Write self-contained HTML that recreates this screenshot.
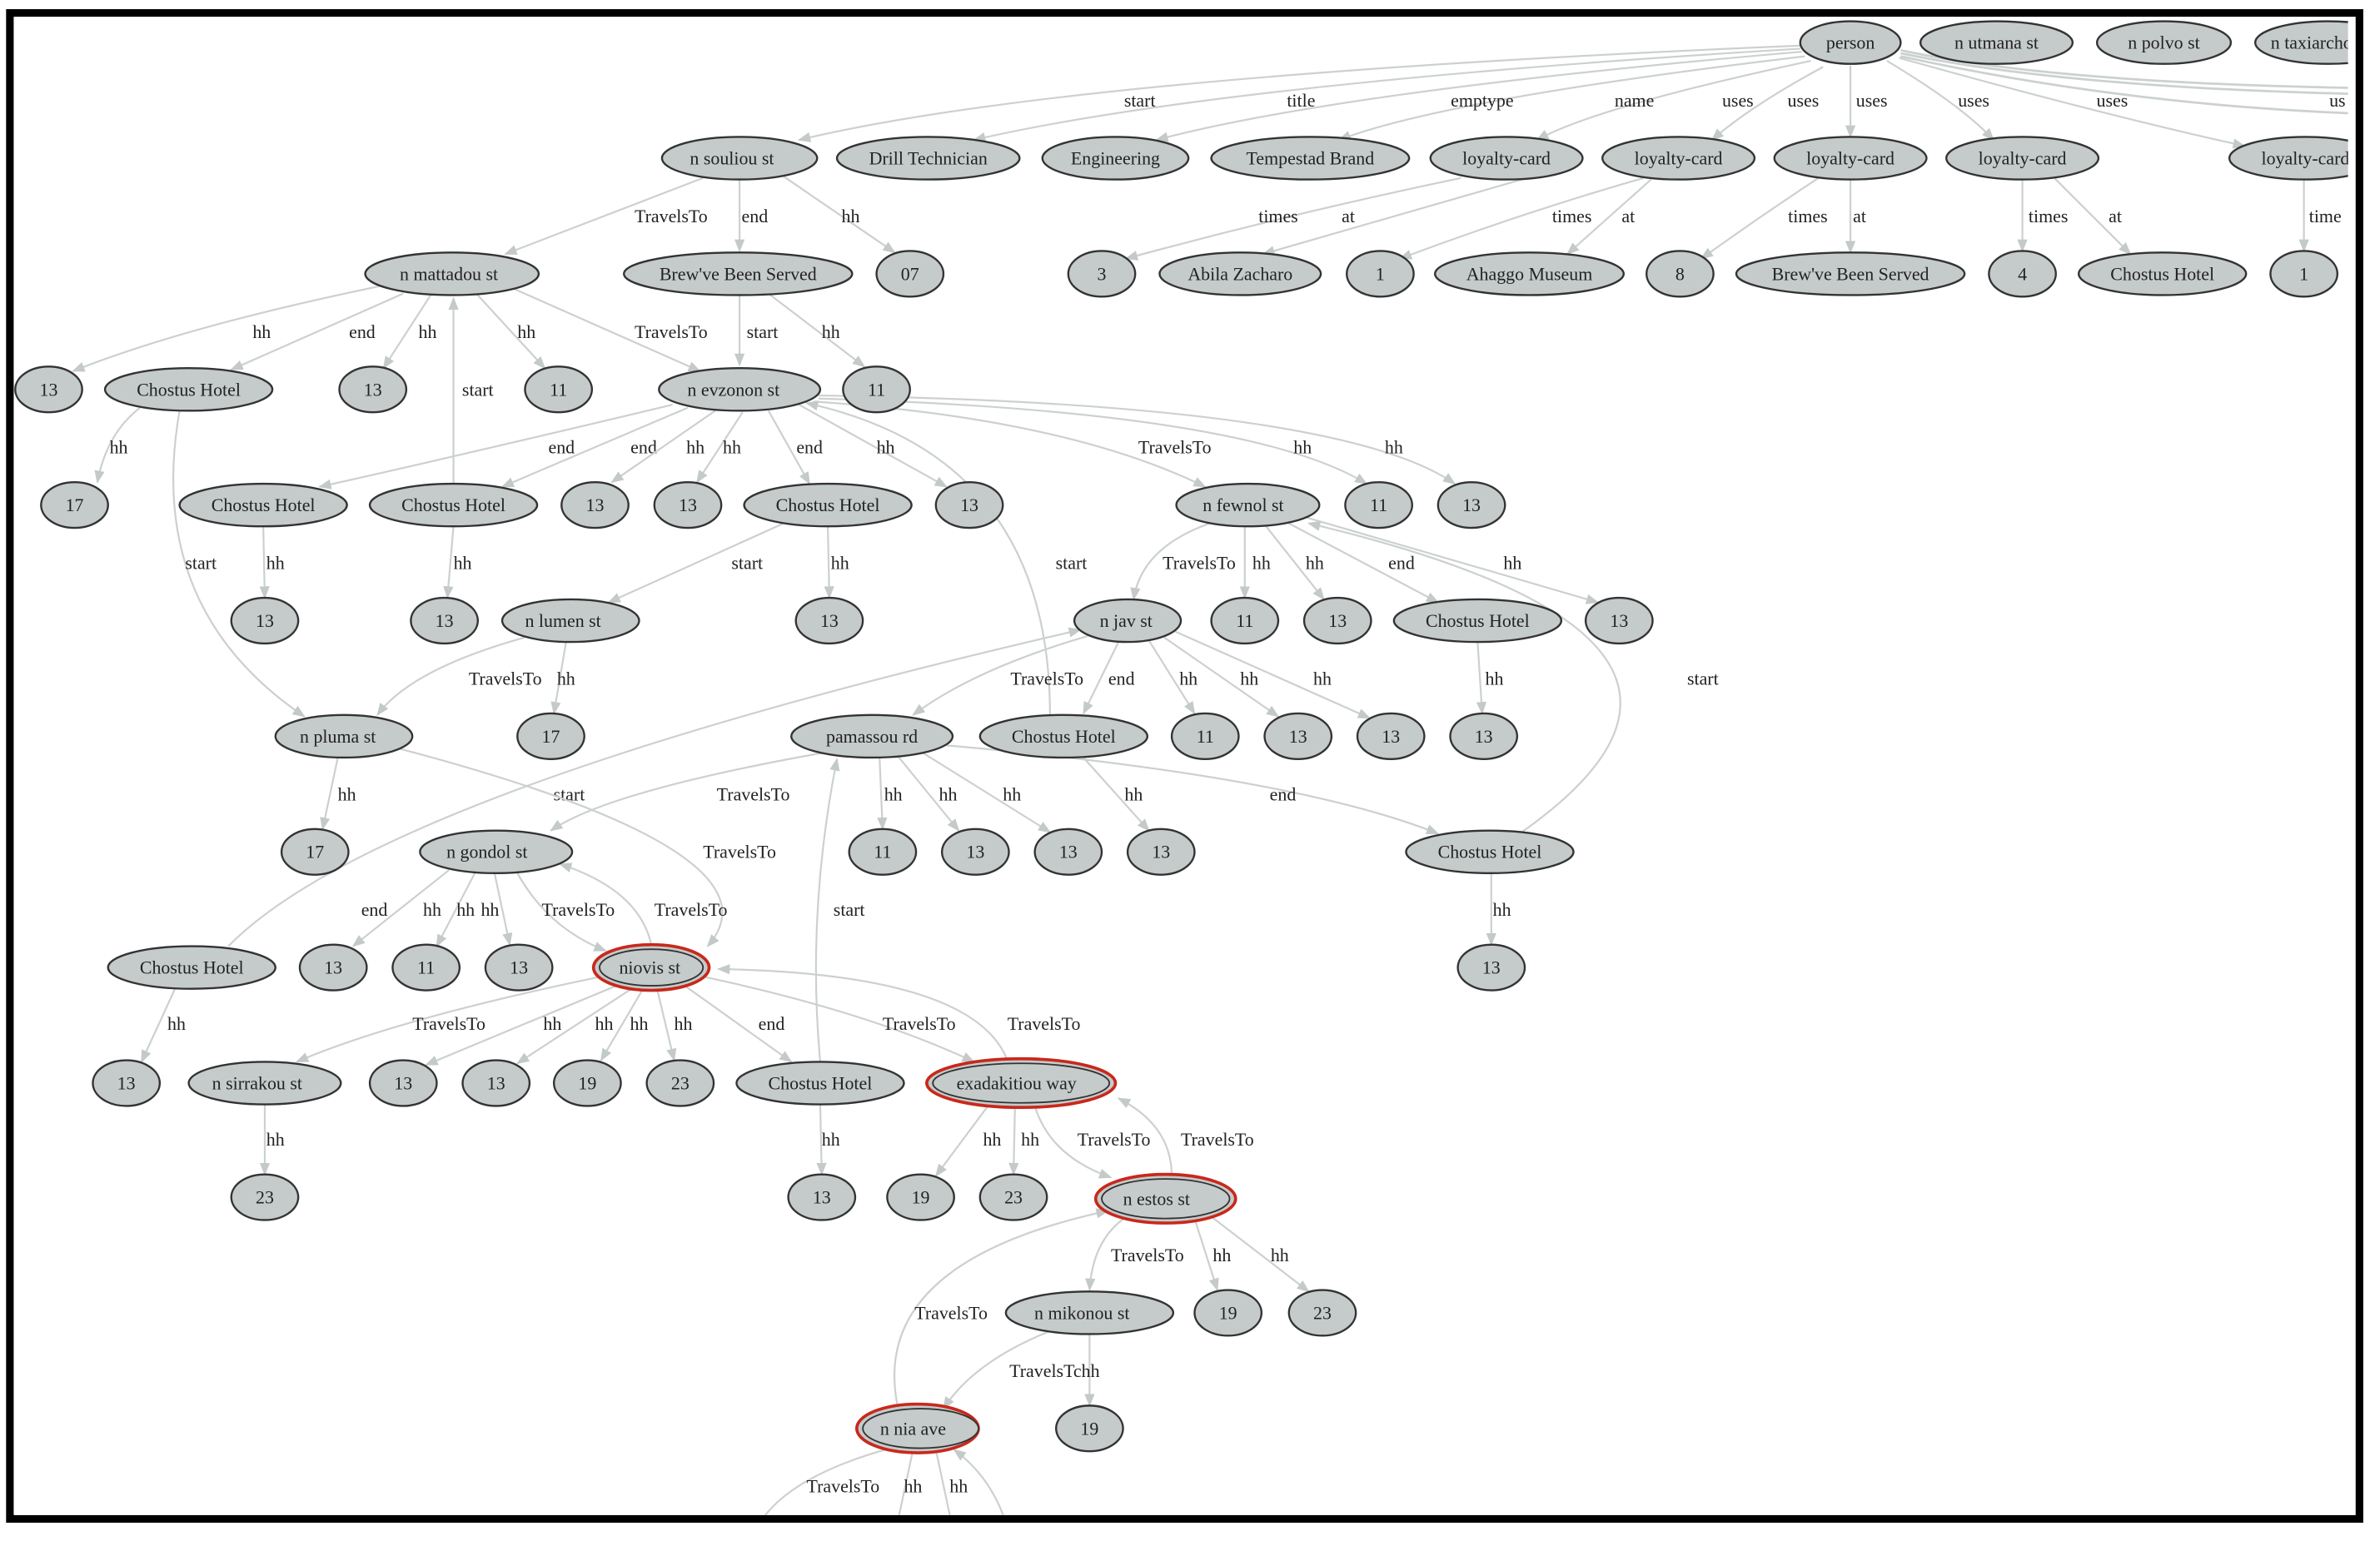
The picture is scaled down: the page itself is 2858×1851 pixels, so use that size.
<!DOCTYPE html>
<html><head><meta charset="utf-8"><style>
html,body{margin:0;padding:0;background:#fff;}
svg{display:block}
text{font-family:"Liberation Serif","DejaVu Serif",serif;font-size:12px;fill:#222;text-anchor:middle;dominant-baseline:central}
.e{fill:none;stroke:#cbd1cf;stroke-width:1.2;marker-end:url(#a)}
.n ellipse{fill:#c5cbca;stroke:#333;stroke-width:1.3}
.r ellipse{stroke:#c8281c;stroke-width:2}
</style></head><body>
<svg width="2858" height="1851" viewBox="0 0 1564 1013" preserveAspectRatio="none" xmlns="http://www.w3.org/2000/svg">
<defs><marker id="a" viewBox="0 0 10 10" refX="9" refY="5" markerWidth="7" markerHeight="7" orient="auto"><path d="M0,1 L10,5 L0,9 z" fill="#c3cac8"/></marker>
<clipPath id="c"><rect x="9" y="10" width="1534" height="986"/></clipPath></defs>
<rect x="0" y="0" width="1564" height="1013" fill="#fff"/>
<rect x="6.5" y="8.5" width="1544" height="990" fill="#fff" stroke="#000" stroke-width="5"/>
<g clip-path="url(#c)">
<g>
<path class="e" d="M1183,30 Q700,50 525,92"/>
<path class="e" d="M1183,32 Q800,55 640,92"/>
<path class="e" d="M1184,34 Q880,60 760,92"/>
<path class="e" d="M1186,37 Q950,65 880,92"/>
<path class="e" d="M1190,40 Q1050,70 1010,92"/>
<path class="e" d="M1198,44 Q1150,70 1125,92"/>
<path class="e" d="M1216,43 L1216,90"/>
<path class="e" d="M1240,40 Q1290,70 1310,92"/>
<path class="e" d="M1248,38 Q1380,75 1475,96"/>
<path d="M1249,33 Q1350,55 1560,58 M1249,35 Q1360,58 1560,62 M1249,37 Q1400,70 1560,75" stroke="#cbd1cf" stroke-width="1.5" fill="none"/>
<text x="749" y="66">start</text><text x="855" y="66">title</text><text x="974" y="66">emptype</text><text x="1074" y="66">name</text><text x="1142" y="66">uses</text><text x="1185" y="66">uses</text><text x="1230" y="66">uses</text><text x="1297" y="66">uses</text><text x="1388" y="66">uses</text><text x="1536" y="66">us</text>
<path class="e" d="M960,117 Q850,140 740,170"/><text x="840" y="142">times</text>
<path class="e" d="M1000,118 L830,167"/><text x="886" y="142">at</text>
<path class="e" d="M1080,117 Q1000,140 920,170"/><text x="1033" y="142">times</text>
<path class="e" d="M1085,118 L1030,167"/><text x="1070" y="142">at</text>
<path class="e" d="M1195,117 Q1160,140 1118,170"/><text x="1188" y="142">times</text>
<path class="e" d="M1216,118 L1216,166"/><text x="1222" y="142">at</text>
<path class="e" d="M1329,118 L1329,165"/><text x="1346" y="142">times</text>
<path class="e" d="M1350,117 L1400,167"/><text x="1390" y="142">at</text>
<path class="e" d="M1514,118 L1514,165"/><text x="1528" y="142">time</text>
<path class="e" d="M462,117 L332,167"/><text x="441" y="142">TravelsTo</text>
<path class="e" d="M486,118 L486,165"/><text x="496" y="142">end</text>
<path class="e" d="M515,116 L588,166"/><text x="559" y="142">hh</text>
<path class="e" d="M250,188 Q120,215 48,244"/><text x="172" y="218">hh</text>
<path class="e" d="M265,193 L152,243"/><text x="238" y="218">end</text>
<path class="e" d="M283,194 L252,242"/><text x="281" y="218">hh</text>
<path class="e" d="M313,193 L358,242"/><text x="346" y="218">hh</text>
<path class="e" d="M338,190 L460,244"/><text x="441" y="218">TravelsTo</text>
<path class="e" d="M298,318 L298,196"/><text x="314" y="256">start</text>
<path class="e" d="M486,194 L486,240"/><text x="501" y="218">start</text>
<path class="e" d="M505,193 L568,241"/><text x="546" y="218">hh</text>
<path class="e" d="M92,268 Q70,285 64,317"/><text x="78" y="294">hh</text>
<path class="e" d="M118,270 Q95,400 200,471"/><text x="132" y="370">start</text>
<path class="e" d="M442,266 Q300,300 210,320"/><text x="369" y="294">end</text>
<path class="e" d="M452,268 L330,320"/><text x="423" y="294">end</text>
<path class="e" d="M470,270 L402,317"/><text x="457" y="294">hh</text>
<path class="e" d="M488,271 L458,317"/><text x="481" y="294">hh</text>
<path class="e" d="M505,270 L532,318"/><text x="532" y="294">end</text>
<path class="e" d="M525,266 L622,320"/><text x="582" y="294">hh</text>
<path class="e" d="M535,264 Q700,275 792,320"/><text x="772" y="294">TravelsTo</text>
<path class="e" d="M538,262 Q820,270 898,318"/><text x="856" y="294">hh</text>
<path class="e" d="M538,260 Q880,265 956,318"/><text x="916" y="294">hh</text>
<path class="e" d="M173,346 L174,393"/><text x="181" y="370">hh</text>
<path class="e" d="M298,346 L294,393"/><text x="304" y="370">hh</text>
<path class="e" d="M515,344 L400,396"/><text x="491" y="370">start</text>
<path class="e" d="M544,346 L545,393"/><text x="552" y="370">hh</text>
<path class="e" d="M690,470 Q690,300 530,265"/><text x="704" y="370">start</text>
<path class="e" d="M795,344 Q750,360 745,394"/><text x="788" y="370">TravelsTo</text>
<path class="e" d="M818,346 L818,393"/><text x="829" y="370">hh</text>
<path class="e" d="M832,346 L870,394"/><text x="864" y="370">hh</text>
<path class="e" d="M845,343 L945,396"/><text x="921" y="370">end</text>
<path class="e" d="M858,340 L1050,396"/><text x="994" y="370">hh</text>
<path class="e" d="M1000,547 Q1180,420 860,344"/><text x="1119" y="446">start</text>
<path class="e" d="M971,422 L974,469"/><text x="982" y="446">hh</text>
<path class="e" d="M345,419 Q270,440 248,470"/><text x="332" y="446">TravelsTo</text>
<path class="e" d="M372,422 L364,469"/><text x="372" y="446">hh</text>
<path class="e" d="M715,418 Q640,440 600,470"/><text x="688" y="446">TravelsTo</text>
<path class="e" d="M735,422 L712,469"/><text x="737" y="446">end</text>
<path class="e" d="M755,421 L785,469"/><text x="781" y="446">hh</text>
<path class="e" d="M765,419 L840,471"/><text x="821" y="446">hh</text>
<path class="e" d="M772,415 L900,472"/><text x="869" y="446">hh</text>
<path class="e" d="M150,622 Q250,520 710,414"/><text x="374" y="522">start</text>
<path class="e" d="M222,498 L212,545"/><text x="228" y="522">hh</text>
<path class="e" d="M262,492 Q520,560 465,622"/><text x="486" y="560">TravelsTo</text>
<path class="e" d="M540,495 Q400,520 362,546"/><text x="495" y="522">TravelsTo</text>
<path class="e" d="M578,498 L580,545"/><text x="587" y="522">hh</text>
<path class="e" d="M590,497 L630,546"/><text x="623" y="522">hh</text>
<path class="e" d="M605,494 L690,547"/><text x="665" y="522">hh</text>
<path class="e" d="M622,490 Q850,510 945,548"/><text x="843" y="522">end</text>
<path class="e" d="M712,498 L755,546"/><text x="745" y="522">hh</text>
<path class="e" d="M539,698 Q530,600 550,499"/><text x="558" y="598">start</text>
<path class="e" d="M295,572 L232,622"/><text x="246" y="598">end</text>
<path class="e" d="M312,574 L287,622"/><text x="284" y="598">hh</text>
<path class="e" d="M325,574 L335,621"/><text x="306" y="598">hh</text><text x="322" y="598">hh</text>
<path class="e" d="M340,574 Q360,610 398,625"/><text x="380" y="598">TravelsTo</text>
<path class="e" d="M428,621 Q420,585 368,568"/><text x="454" y="598">TravelsTo</text>
<path class="e" d="M980,574 L980,621"/><text x="987" y="598">hh</text>
<path class="e" d="M115,650 L93,698"/><text x="116" y="673">hh</text>
<path class="e" d="M395,642 Q260,670 195,698"/><text x="295" y="673">TravelsTo</text>
<path class="e" d="M405,648 L280,700"/><text x="363" y="673">hh</text>
<path class="e" d="M415,650 L340,699"/><text x="397" y="673">hh</text>
<path class="e" d="M422,651 L395,697"/><text x="420" y="673">hh</text>
<path class="e" d="M432,651 L443,697"/><text x="449" y="673">hh</text>
<path class="e" d="M450,648 L520,698"/><text x="507" y="673">end</text>
<path class="e" d="M462,642 Q570,665 640,698"/><text x="604" y="673">TravelsTo</text>
<path class="e" d="M662,697 Q640,640 472,637"/><text x="686" y="673">TravelsTo</text>
<path class="e" d="M174,726 L174,772"/><text x="181" y="749">hh</text>
<path class="e" d="M539,726 L540,772"/><text x="546" y="749">hh</text>
<path class="e" d="M650,726 L615,773"/><text x="652" y="749">hh</text>
<path class="e" d="M667,727 L666,772"/><text x="677" y="749">hh</text>
<path class="e" d="M680,727 Q690,760 730,774"/><text x="732" y="749">TravelsTo</text>
<path class="e" d="M770,773 Q770,740 735,722"/><text x="800" y="749">TravelsTo</text>
<path class="e" d="M740,800 Q718,815 716,848"/><text x="754" y="825">TravelsTo</text>
<path class="e" d="M785,801 L800,848"/><text x="803" y="825">hh</text>
<path class="e" d="M795,799 L860,849"/><text x="841" y="825">hh</text>
<path class="e" d="M590,925 Q570,830 728,796"/><text x="625" y="863">TravelsTo</text>
<path class="e" d="M690,875 Q640,895 620,926"/>
<path class="e" d="M716,877 L716,924"/><text x="693" y="901">TravelsTchh</text>
<path d="M585,952 Q520,970 500,1000 M600,953 L590,1000 M615,953 L625,1000" stroke="#cbd1cf" stroke-width="1.2" fill="none"/>
<path class="e" d="M660,998 Q650,970 627,953"/>
<text x="554" y="977">TravelsTo</text><text x="600" y="977">hh</text><text x="630" y="977">hh</text>
</g>
<g class="n">
<ellipse cx="1216" cy="28" rx="33" ry="14"/><text x="1216" y="28">person</text>
<ellipse cx="1312" cy="28" rx="50" ry="14"/><text x="1312" y="28">n utmana st</text>
<ellipse cx="1422" cy="28" rx="44" ry="14"/><text x="1422" y="28">n polvo st</text>
<ellipse cx="1530" cy="28" rx="48" ry="14"/><text x="1522" y="28">n taxiarchon</text>
<ellipse cx="486" cy="104" rx="51" ry="14"/><text x="481" y="104">n souliou st</text>
<ellipse cx="610" cy="104" rx="60" ry="14"/><text x="610" y="104">Drill Technician</text>
<ellipse cx="733" cy="104" rx="48" ry="14"/><text x="733" y="104">Engineering</text>
<ellipse cx="861" cy="104" rx="65" ry="14"/><text x="861" y="104">Tempestad Brand</text>
<ellipse cx="990" cy="104" rx="50" ry="14"/><text x="990" y="104">loyalty-card</text>
<ellipse cx="1103" cy="104" rx="50" ry="14"/><text x="1103" y="104">loyalty-card</text>
<ellipse cx="1216" cy="104" rx="50" ry="14"/><text x="1216" y="104">loyalty-card</text>
<ellipse cx="1329" cy="104" rx="50" ry="14"/><text x="1329" y="104">loyalty-card</text>
<ellipse cx="1515" cy="104" rx="50" ry="14"/><text x="1515" y="104">loyalty-card</text>
<ellipse cx="297" cy="180" rx="57" ry="14"/><text x="295" y="180">n mattadou st</text>
<ellipse cx="485" cy="180" rx="75" ry="14"/><text x="485" y="180">Brew've Been Served</text>
<ellipse cx="598" cy="180" rx="22" ry="15"/><text x="598" y="180">07</text>
<ellipse cx="724" cy="180" rx="22" ry="15"/><text x="724" y="180">3</text>
<ellipse cx="815" cy="180" rx="53" ry="14"/><text x="815" y="180">Abila Zacharo</text>
<ellipse cx="907" cy="180" rx="22" ry="15"/><text x="907" y="180">1</text>
<ellipse cx="1005" cy="180" rx="62" ry="14"/><text x="1005" y="180">Ahaggo Museum</text>
<ellipse cx="1104" cy="180" rx="22" ry="15"/><text x="1104" y="180">8</text>
<ellipse cx="1216" cy="180" rx="75" ry="14"/><text x="1216" y="180">Brew've Been Served</text>
<ellipse cx="1329" cy="180" rx="22" ry="15"/><text x="1329" y="180">4</text>
<ellipse cx="1421" cy="180" rx="55" ry="14"/><text x="1421" y="180">Chostus Hotel</text>
<ellipse cx="1514" cy="180" rx="22" ry="15"/><text x="1514" y="180">1</text>
<ellipse cx="32" cy="256" rx="22" ry="15"/><text x="32" y="256">13</text>
<ellipse cx="124" cy="256" rx="55" ry="14"/><text x="124" y="256">Chostus Hotel</text>
<ellipse cx="245" cy="256" rx="22" ry="15"/><text x="245" y="256">13</text>
<ellipse cx="367" cy="256" rx="22" ry="15"/><text x="367" y="256">11</text>
<ellipse cx="486" cy="256" rx="53" ry="14"/><text x="482" y="256">n evzonon st</text>
<ellipse cx="576" cy="256" rx="22" ry="15"/><text x="576" y="256">11</text>
<ellipse cx="49" cy="332" rx="22" ry="15"/><text x="49" y="332">17</text>
<ellipse cx="173" cy="332" rx="55" ry="14"/><text x="173" y="332">Chostus Hotel</text>
<ellipse cx="298" cy="332" rx="55" ry="14"/><text x="298" y="332">Chostus Hotel</text>
<ellipse cx="391" cy="332" rx="22" ry="15"/><text x="391" y="332">13</text>
<ellipse cx="452" cy="332" rx="22" ry="15"/><text x="452" y="332">13</text>
<ellipse cx="544" cy="332" rx="55" ry="14"/><text x="544" y="332">Chostus Hotel</text>
<ellipse cx="637" cy="332" rx="22" ry="15"/><text x="637" y="332">13</text>
<ellipse cx="820" cy="332" rx="47" ry="14"/><text x="817" y="332">n fewnol st</text>
<ellipse cx="906" cy="332" rx="22" ry="15"/><text x="906" y="332">11</text>
<ellipse cx="967" cy="332" rx="22" ry="15"/><text x="967" y="332">13</text>
<ellipse cx="174" cy="408" rx="22" ry="15"/><text x="174" y="408">13</text>
<ellipse cx="292" cy="408" rx="22" ry="15"/><text x="292" y="408">13</text>
<ellipse cx="375" cy="408" rx="45" ry="14"/><text x="370" y="408">n lumen st</text>
<ellipse cx="545" cy="408" rx="22" ry="15"/><text x="545" y="408">13</text>
<ellipse cx="741" cy="408" rx="35" ry="14"/><text x="740" y="408">n jav st</text>
<ellipse cx="818" cy="408" rx="22" ry="15"/><text x="818" y="408">11</text>
<ellipse cx="879" cy="408" rx="22" ry="15"/><text x="879" y="408">13</text>
<ellipse cx="971" cy="408" rx="55" ry="14"/><text x="971" y="408">Chostus Hotel</text>
<ellipse cx="1064" cy="408" rx="22" ry="15"/><text x="1064" y="408">13</text>
<ellipse cx="226" cy="484" rx="45" ry="14"/><text x="222" y="484">n pluma st</text>
<ellipse cx="362" cy="484" rx="22" ry="15"/><text x="362" y="484">17</text>
<ellipse cx="573" cy="484" rx="53" ry="14"/><text x="573" y="484">pamassou rd</text>
<ellipse cx="699" cy="484" rx="55" ry="14"/><text x="699" y="484">Chostus Hotel</text>
<ellipse cx="792" cy="484" rx="22" ry="15"/><text x="792" y="484">11</text>
<ellipse cx="853" cy="484" rx="22" ry="15"/><text x="853" y="484">13</text>
<ellipse cx="914" cy="484" rx="22" ry="15"/><text x="914" y="484">13</text>
<ellipse cx="975" cy="484" rx="22" ry="15"/><text x="975" y="484">13</text>
<ellipse cx="207" cy="560" rx="22" ry="15"/><text x="207" y="560">17</text>
<ellipse cx="326" cy="560" rx="50" ry="14"/><text x="320" y="560">n gondol st</text>
<ellipse cx="580" cy="560" rx="22" ry="15"/><text x="580" y="560">11</text>
<ellipse cx="641" cy="560" rx="22" ry="15"/><text x="641" y="560">13</text>
<ellipse cx="702" cy="560" rx="22" ry="15"/><text x="702" y="560">13</text>
<ellipse cx="763" cy="560" rx="22" ry="15"/><text x="763" y="560">13</text>
<ellipse cx="979" cy="560" rx="55" ry="14"/><text x="979" y="560">Chostus Hotel</text>
<ellipse cx="126" cy="636" rx="55" ry="14"/><text x="126" y="636">Chostus Hotel</text>
<ellipse cx="219" cy="636" rx="22" ry="15"/><text x="219" y="636">13</text>
<ellipse cx="280" cy="636" rx="22" ry="15"/><text x="280" y="636">11</text>
<ellipse cx="341" cy="636" rx="22" ry="15"/><text x="341" y="636">13</text>
<ellipse cx="980" cy="636" rx="22" ry="15"/><text x="980" y="636">13</text>
<ellipse cx="83" cy="712" rx="22" ry="15"/><text x="83" y="712">13</text>
<ellipse cx="174" cy="712" rx="50" ry="14"/><text x="169" y="712">n sirrakou st</text>
<ellipse cx="265" cy="712" rx="22" ry="15"/><text x="265" y="712">13</text>
<ellipse cx="326" cy="712" rx="22" ry="15"/><text x="326" y="712">13</text>
<ellipse cx="386" cy="712" rx="22" ry="15"/><text x="386" y="712">19</text>
<ellipse cx="447" cy="712" rx="22" ry="15"/><text x="447" y="712">23</text>
<ellipse cx="539" cy="712" rx="55" ry="14"/><text x="539" y="712">Chostus Hotel</text>
<ellipse cx="174" cy="787" rx="22" ry="15"/><text x="174" y="787">23</text>
<ellipse cx="540" cy="787" rx="22" ry="15"/><text x="540" y="787">13</text>
<ellipse cx="605" cy="787" rx="22" ry="15"/><text x="605" y="787">19</text>
<ellipse cx="666" cy="787" rx="22" ry="15"/><text x="666" y="787">23</text>
<ellipse cx="716" cy="863" rx="55" ry="14"/><text x="711" y="863">n mikonou st</text>
<ellipse cx="807" cy="863" rx="22" ry="15"/><text x="807" y="863">19</text>
<ellipse cx="869" cy="863" rx="22" ry="15"/><text x="869" y="863">23</text>
<ellipse cx="716" cy="939" rx="22" ry="15"/><text x="716" y="939">19</text>
</g>
<g class="n r">
<ellipse cx="428" cy="636" rx="38" ry="15"/><ellipse cx="428" cy="636" rx="34" ry="12" style="stroke:#333;stroke-width:1"/><text x="427" y="636">niovis st</text>
<ellipse cx="671" cy="712" rx="62" ry="16"/><ellipse cx="671" cy="712" rx="58" ry="13" style="stroke:#333;stroke-width:1"/><text x="668" y="712">exadakitiou way</text>
<ellipse cx="766" cy="788" rx="46" ry="16"/><ellipse cx="766" cy="788" rx="42" ry="13" style="stroke:#333;stroke-width:1"/><text x="760" y="788">n estos st</text>
<ellipse cx="603" cy="939" rx="40" ry="16"/><ellipse cx="605" cy="939" rx="38" ry="13" style="stroke:#333;stroke-width:1"/><text x="600" y="939">n nia ave</text>
</g>
</g>
</svg>
</body></html>
